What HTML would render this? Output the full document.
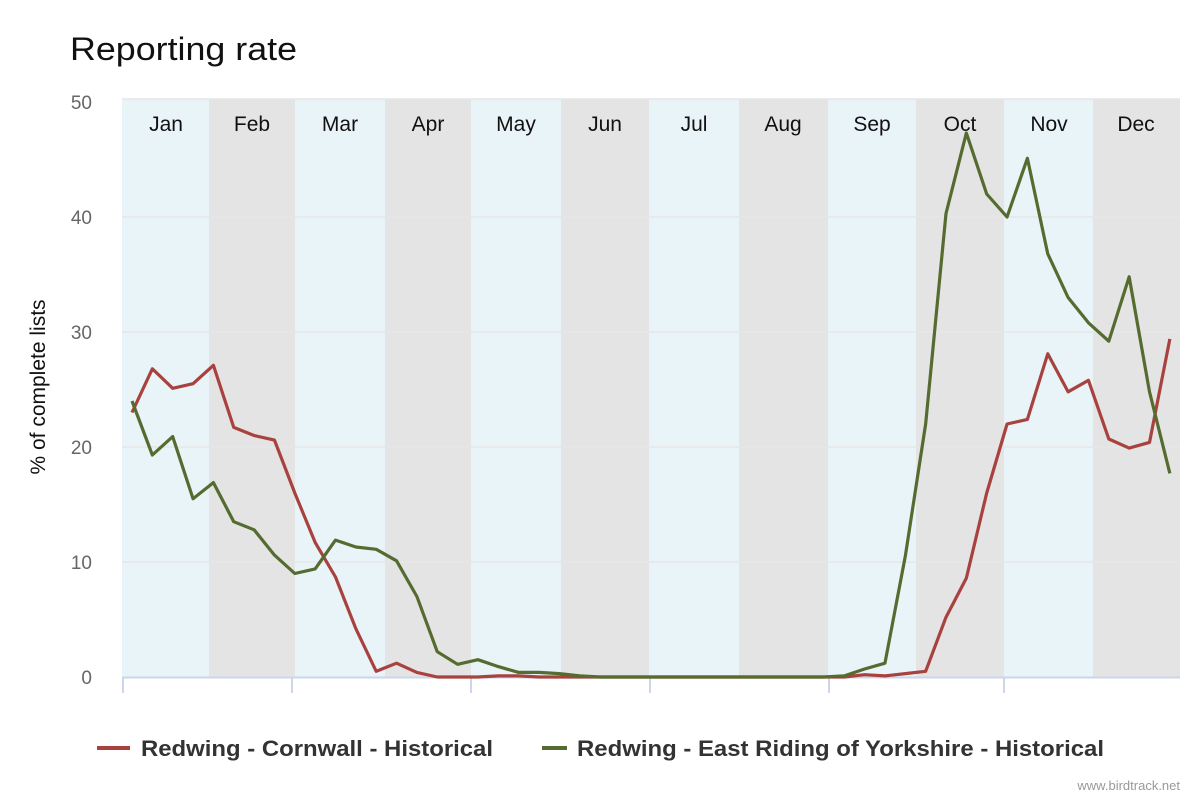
<!DOCTYPE html>
<html><head><meta charset="utf-8"><style>
html,body{margin:0;padding:0;background:#fff;}
svg{display:block;font-family:"Liberation Sans",Arial,sans-serif;}
</style></head><body>
<svg width="1200" height="800" viewBox="0 0 1200 800">
<text x="70" y="60" font-size="32" fill="#111" textLength="227" lengthAdjust="spacingAndGlyphs">Reporting rate</text>
<g>
<rect x="122" y="99" width="87" height="578" fill="#e9f4f9"/>
<rect x="209" y="99" width="86" height="578" fill="#e4e4e4"/>
<rect x="295" y="99" width="90" height="578" fill="#e9f4f9"/>
<rect x="385" y="99" width="86" height="578" fill="#e4e4e4"/>
<rect x="471" y="99" width="90" height="578" fill="#e9f4f9"/>
<rect x="561" y="99" width="88" height="578" fill="#e4e4e4"/>
<rect x="649" y="99" width="90" height="578" fill="#e9f4f9"/>
<rect x="739" y="99" width="89" height="578" fill="#e4e4e4"/>
<rect x="828" y="99" width="88" height="578" fill="#e9f4f9"/>
<rect x="916" y="99" width="88" height="578" fill="#e4e4e4"/>
<rect x="1004" y="99" width="89" height="578" fill="#e9f4f9"/>
<rect x="1093" y="99" width="87" height="578" fill="#e4e4e4"/>
</g>
<g stroke="#e6e6e6" stroke-width="1.5">
<line x1="122" x2="1180" y1="99" y2="99"/>
<line x1="122" x2="1180" y1="217" y2="217"/>
<line x1="122" x2="1180" y1="332" y2="332"/>
<line x1="122" x2="1180" y1="447" y2="447"/>
<line x1="122" x2="1180" y1="562" y2="562"/>
</g>
<g font-size="21" fill="#111" text-anchor="middle">
<text x="166" y="131">Jan</text><text x="252" y="131">Feb</text><text x="340" y="131">Mar</text>
<text x="428" y="131">Apr</text><text x="516" y="131">May</text><text x="605" y="131">Jun</text>
<text x="694" y="131">Jul</text><text x="783" y="131">Aug</text><text x="872" y="131">Sep</text>
<text x="960" y="131">Oct</text><text x="1049" y="131">Nov</text><text x="1136" y="131">Dec</text>
</g>
<g font-size="19" fill="#666" text-anchor="end">
<text x="92" y="109">50</text><text x="92" y="224">40</text><text x="92" y="339">30</text>
<text x="92" y="454">20</text><text x="92" y="569">10</text><text x="92" y="684">0</text>
</g>
<text transform="translate(45,387) rotate(-90)" font-size="21" fill="#111" text-anchor="middle">% of complete lists</text>
<line x1="122" x2="1180" y1="677.5" y2="677.5" stroke="#ccd6eb" stroke-width="2"/>
<g stroke="#ccd6eb" stroke-width="2">
<line x1="123" x2="123" y1="677" y2="693"/><line x1="292" x2="292" y1="677" y2="693"/>
<line x1="471" x2="471" y1="677" y2="693"/><line x1="650" x2="650" y1="677" y2="693"/>
<line x1="829" x2="829" y1="677" y2="693"/><line x1="1004" x2="1004" y1="677" y2="693"/>
</g>
<polyline fill="none" stroke="#a8423f" stroke-width="3.2" stroke-linejoin="round" points="132,412.5 152.35,368.8 172.7,388.3 193.05,383.7 213.4,365.3 233.75,427.4 254.1,435.5 274.45,440.1 294.8,493 315.15,542.4 335.5,577 355.85,628.7 376.2,671.3 396.55,663.2 416.9,672.4 437.25,677 457.6,677 477.95,677 498.3,675.9 518.65,675.9 539,677 844.25,677 864.6,674.7 884.95,675.9 905.3,673.6 925.65,671.3 946,617.2 966.35,578.1 986.7,493 1007.05,424 1027.4,419.4 1047.75,353.8 1068.1,391.8 1088.45,380.3 1108.8,439 1129.15,448.1 1149.5,442.4 1169.85,338.9"/>
<polyline fill="none" stroke="#556b2f" stroke-width="3.2" stroke-linejoin="round" points="132,401 152.35,455 172.7,436.6 193.05,498.7 213.4,482.6 233.75,521.7 254.1,529.8 274.45,555.1 294.8,573.5 315.15,568.9 335.5,540.1 355.85,547 376.2,549.3 396.55,560.8 416.9,596.5 437.25,651.7 457.6,664.3 477.95,659.7 498.3,666.6 518.65,672.4 539,672.4 559.35,673.6 579.7,675.9 600.05,677 823.9,677 844.25,675.9 864.6,669 884.95,663.2 905.3,556.2 925.65,424 946,213.5 966.35,133 986.7,194 1007.05,217 1027.4,158.3 1047.75,253.8 1068.1,297.5 1088.45,322.8 1108.8,341.2 1129.15,276.8 1149.5,391.8 1169.85,473.4"/>
<line x1="97" x2="130" y1="748" y2="748" stroke="#a8423f" stroke-width="4"/>
<text x="141" y="756" font-size="22" font-weight="bold" fill="#333" textLength="352" lengthAdjust="spacingAndGlyphs">Redwing - Cornwall - Historical</text>
<line x1="542" x2="567" y1="748" y2="748" stroke="#556b2f" stroke-width="4"/>
<text x="577" y="756" font-size="22" font-weight="bold" fill="#333" textLength="527" lengthAdjust="spacingAndGlyphs">Redwing - East Riding of Yorkshire - Historical</text>
<text x="1180" y="790" font-size="13" fill="#999" text-anchor="end">www.birdtrack.net</text>
</svg>
</body></html>
